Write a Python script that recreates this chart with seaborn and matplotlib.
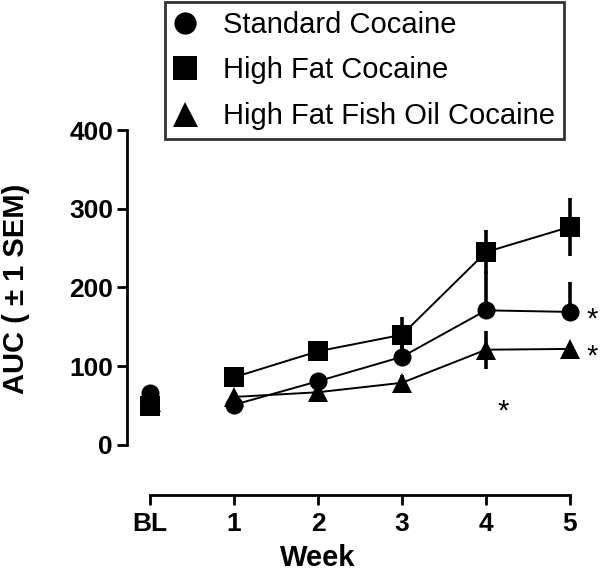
import numpy as np
import pandas as pd
import matplotlib
matplotlib.use('Agg')
import matplotlib.pyplot as plt
from matplotlib.lines import Line2D
import seaborn as sns

# Data
week_labels = ['BL', '1', '2', '3', '4', '5']
groups = ['Standard Cocaine', 'High Fat Cocaine', 'High Fat Fish Oil Cocaine']
standard = [66, 51, 81, 112, 171, 169]
high_fat = [50, 86, 119, 140, 245, 277]
fish_oil = [56, 61, 67, 79, 121, 122]
sem_standard = [10, 5, 8, 16, 50, 38]
sem_high_fat = [12, 8, 7, 22, 28, 37]
sem_fish_oil = [10, 6, 13, 10, 24, 6]

markers = {'Standard Cocaine': 'o', 'High Fat Cocaine': 's', 'High Fat Fish Oil Cocaine': '^'}
msizes = {'Standard Cocaine': 13, 'High Fat Cocaine': 14, 'High Fat Fish Oil Cocaine': 15}

rows = []
for g, vals, sems in zip(groups, [standard, high_fat, fish_oil],
                         [sem_standard, sem_high_fat, sem_fish_oil]):
    for i, (v, s) in enumerate(zip(vals, sems)):
        rows.append({'group': g, 'x': i, 'auc': v, 'sem': s})
df = pd.DataFrame(rows)

sns.set_style('ticks')
plt.rcParams['font.family'] = ['Liberation Sans', 'DejaVu Sans']
plt.rcParams['text.color'] = 'black'
plt.rcParams['axes.labelcolor'] = 'black'

fig = plt.figure(figsize=(6, 5.72), dpi=100)
ax = fig.add_axes([127 / 600, 77 / 572, 473 / 600, 365 / 572])

for g in groups:
    d = df[df.group == g]
    weeks = d[d.x > 0]
    bl = d[d.x == 0]
    # standard group only shows the upper half of its bars
    if g == 'Standard Cocaine':
        yerr = [np.zeros(len(d)), d['sem'].values]
    else:
        yerr = d['sem'].values
    ax.errorbar(d['x'], d['auc'], yerr=yerr, fmt='none', ecolor='black',
                elinewidth=2.6, capsize=0, zorder=2)
    sns.lineplot(data=weeks, x='x', y='auc', color='black', linewidth=1.4,
                 marker=markers[g], markersize=msizes[g], markeredgewidth=0,
                 ax=ax, zorder=3, legend=False)
    sns.scatterplot(data=bl, x='x', y='auc', color='black', marker=markers[g],
                    s=msizes[g] ** 2, linewidth=0, ax=ax, zorder=3, legend=False)

# significance markers
ax.text(5.26, 159, '*', fontsize=21, ha='center', va='center')
ax.text(5.26, 112, '*', fontsize=21, ha='center', va='center')
ax.text(4.2, 43, '*', fontsize=21, ha='center', va='center')

ax.set_xlim(-0.274, 5.357)
ax.set_ylim(-63.5, 400)
ax.set_xticks(range(6))
ax.set_xticklabels(week_labels)
ax.set_yticks([0, 100, 200, 300, 400])

sns.despine(ax=ax)
ax.spines['left'].set_bounds(0, 400)
ax.spines['bottom'].set_bounds(0, 5)
ax.spines['left'].set_linewidth(2)
ax.spines['bottom'].set_linewidth(2)
ax.spines['left'].set_color('black')
ax.spines['bottom'].set_color('black')
ax.tick_params(axis='both', direction='out', length=7, width=2, colors='black',
               labelsize=19)
ax.tick_params(axis='x', pad=5)
ax.tick_params(axis='y', pad=3)
for lbl in ax.get_xticklabels() + ax.get_yticklabels():
    lbl.set_fontweight('bold')

ax.set_xlabel('Week', fontsize=21, fontweight='bold')
ax.set_ylabel('AUC ( \u00b1 1 SEM)', fontsize=21, fontweight='bold')
ax.xaxis.set_label_coords(0.404, -0.135)
ax.yaxis.set_label_coords(-0.205, 0.564)

handles = [Line2D([], [], linestyle='none', marker=markers[g], color='black',
                  markersize=msizes[g] + 3, markeredgewidth=0) for g in groups]
leg = fig.legend(handles, groups, loc='upper left',
                 bbox_to_anchor=(165 / 600, 1 - 2 / 572), frameon=True,
                 fontsize=21, fancybox=False, edgecolor='black',
                 handletextpad=0.9, borderpad=0.3, labelspacing=0.6,
                 handlelength=0.8, borderaxespad=0)
leg.get_frame().set_linewidth(2)

fig.savefig('out.png', dpi=100)
